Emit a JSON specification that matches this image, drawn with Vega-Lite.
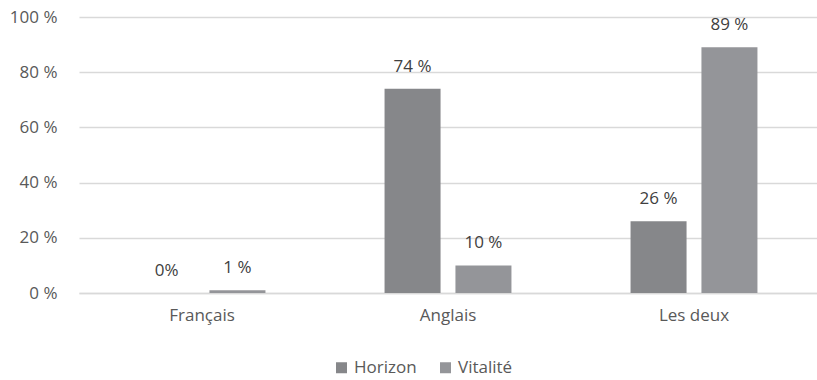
{
  "$schema": "https://vega.github.io/schema/vega-lite/v6.json",
  "width": 738,
  "height": 276,
  "autosize": {"type": "none"},
  "padding": {"left": 79, "top": 17, "right": 0, "bottom": 87},
  "config": {
    "view": {"stroke": null},
    "font": "Open Sans",
    "text": {"font": "Open Sans"}
  },
  "data": {
    "values": [
      {"cat": "Français", "serie": "Horizon", "val": 0, "label": "0%"},
      {"cat": "Français", "serie": "Vitalité", "val": 1, "label": "1 %"},
      {"cat": "Anglais", "serie": "Horizon", "val": 74, "label": "74 %"},
      {"cat": "Anglais", "serie": "Vitalité", "val": 10, "label": "10 %"},
      {"cat": "Les deux", "serie": "Horizon", "val": 26, "label": "26 %"},
      {"cat": "Les deux", "serie": "Vitalité", "val": 89, "label": "89 %"}
    ]
  },
  "encoding": {
    "x": {
      "field": "cat", "type": "nominal", "sort": ["Français", "Anglais", "Les deux"],
      "scale": {"paddingInner": 0, "paddingOuter": 0},
      "axis": {"title": null, "labelAngle": 0, "ticks": false, "domainColor": "#d9d9d9", "domainWidth": 1.3, "labelColor": "#595959", "labelFontSize": 17, "labelPadding": 14, "labelFont": "Open Sans"}
    },
    "xOffset": {"field": "serie", "type": "nominal", "sort": ["Horizon", "Vitalité"], "scale": {"paddingInner": 0.21, "paddingOuter": 0.84}},
    "y": {
      "field": "val", "type": "quantitative",
      "scale": {"domain": [0, 100], "nice": false},
      "axis": {"title": null, "values": [0, 20, 40, 60, 80, 100], "labelExpr": "datum.value + ' %'", "domain": false, "ticks": false, "gridColor": "#d9d9d9", "gridWidth": 1.3, "labelColor": "#595959", "labelFontSize": 17, "labelPadding": 22, "labelFont": "Open Sans"}
    }
  },
  "layer": [
    {
      "mark": {"type": "bar"},
      "encoding": {
        "color": {
          "field": "serie", "type": "nominal", "sort": ["Horizon", "Vitalité"],
          "scale": {"domain": ["Horizon", "Vitalité"], "range": ["#86878a", "#949599"]},
          "legend": {"title": null, "orient": "none", "legendX": 254, "legendY": 342, "direction": "horizontal", "symbolType": "square", "symbolSize": 121, "symbolStrokeWidth": 0, "labelFontSize": 17, "labelColor": "#595959", "labelFont": "Open Sans", "columnPadding": 20, "labelOffset": 4}
        }
      }
    },
    {
      "mark": {"type": "text", "baseline": "bottom", "dy": -13, "fontSize": 17, "color": "#404040"},
      "encoding": {"text": {"field": "label"}}
    }
  ]
}
